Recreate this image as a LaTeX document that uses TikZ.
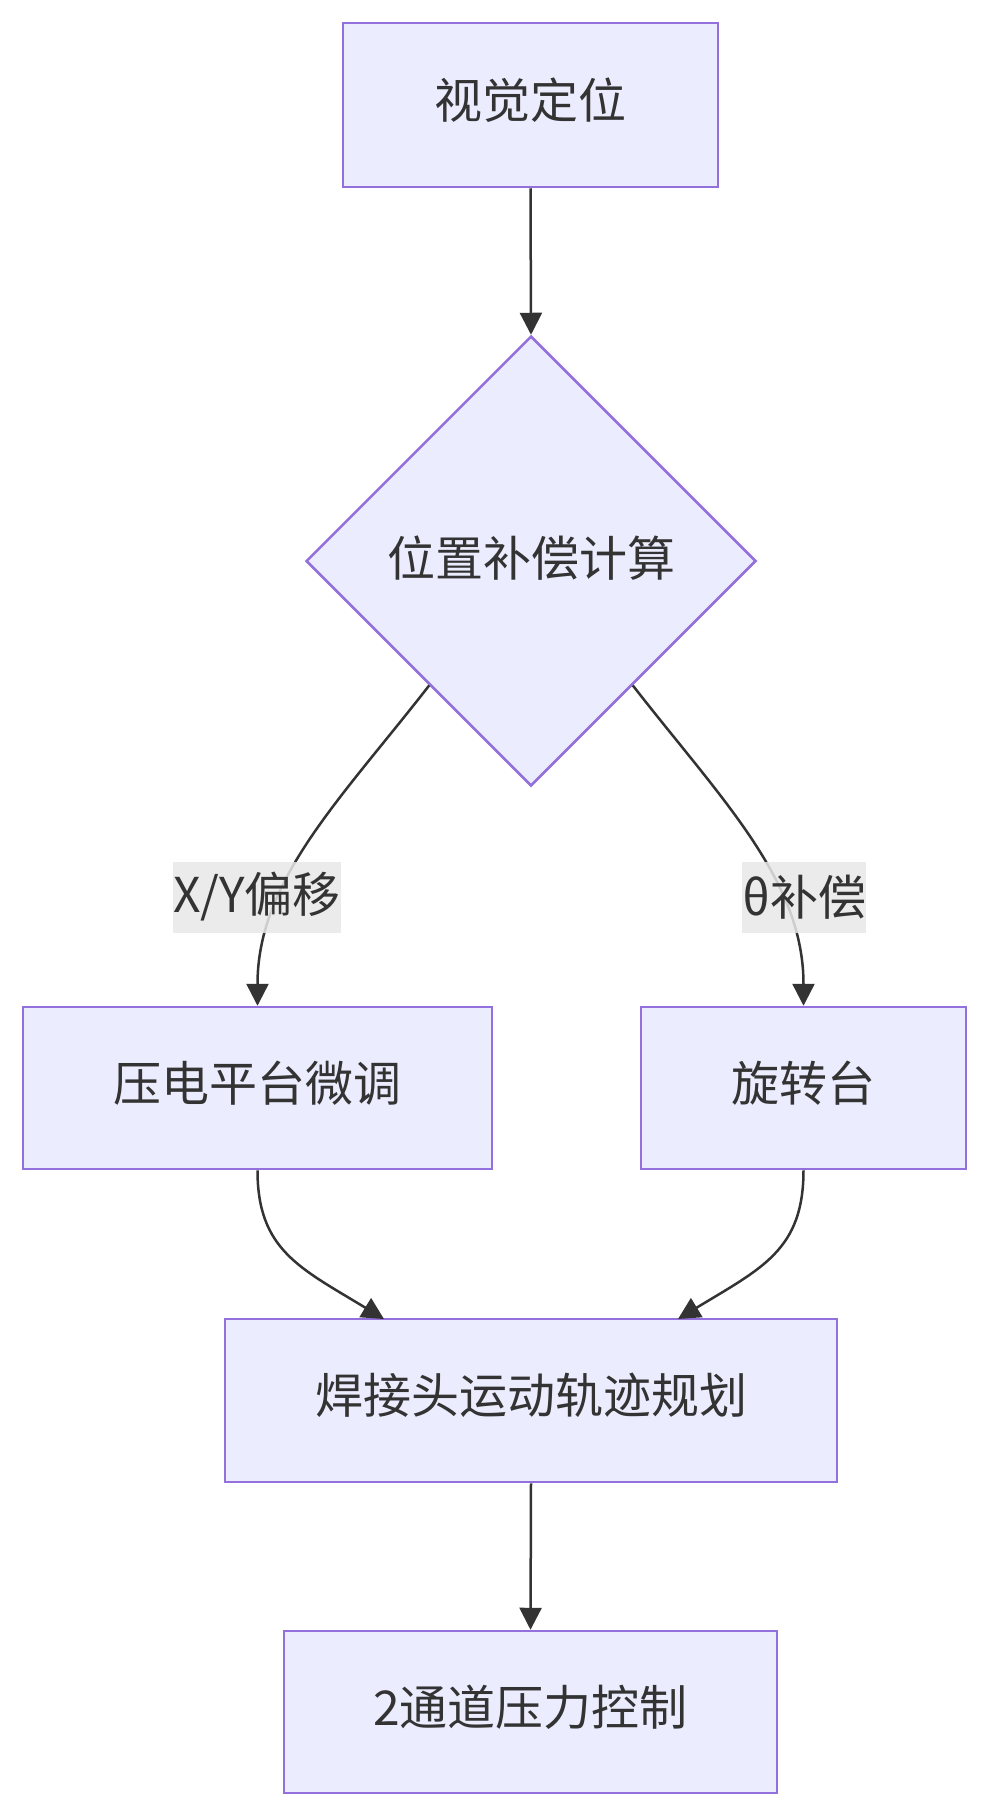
\documentclass[tikz,border=0pt]{standalone}
\usepackage{fontspec}
\setmainfont{Noto Sans CJK SC}
\usetikzlibrary{arrows.meta,shapes.geometric,calc}
\definecolor{nodefill}{HTML}{ECECFF}
\definecolor{nodeline}{HTML}{9370DB}
\definecolor{txt}{HTML}{333333}
\definecolor{edgecol}{HTML}{333333}
\definecolor{lblbg}{HTML}{E8E8E8}
\tikzset{
  x=1pt, y=-1pt,
  procbox/.style={draw=nodeline, fill=nodefill, line width=2.5pt, inner sep=0pt,
    text=txt, font=\fontsize{48}{56}\selectfont, text height=41pt, text depth=15pt},
  decis/.style={diamond, aspect=1, draw=nodeline, fill=nodefill, line width=2.5pt,
    inner sep=0pt, minimum width=450pt, minimum height=450pt, text=txt,
    font=\fontsize{48}{56}\selectfont, text height=41pt, text depth=11pt},
  flow/.style={draw=edgecol, line width=2.5pt, -{Triangle[length=22pt,width=22pt]}},
  elabel/.style={fill=lblbg, fill opacity=0.85, text opacity=1, text=txt, inner sep=0pt,
    minimum height=71pt, font=\fontsize{48}{56}\selectfont}
}
\begin{document}
\begin{tikzpicture}
\useasboundingbox (0,0) rectangle (990,1818);
\node[procbox, minimum width=375pt, minimum height=164pt] (vis) at (530.5,105) {视觉定位};
\node[decis] (calc) at (531,561) {位置补偿计算};
\node[procbox, minimum width=469pt, minimum height=162pt] (piezo) at (257.5,1088) {压电平台微调};
\node[procbox, minimum width=325pt, minimum height=162pt] (rot) at (803.5,1088) {旋转台};
\node[procbox, minimum width=612pt, minimum height=163pt] (traj) at (531,1400.5) {焊接头运动轨迹规划};
\node[procbox, minimum width=493pt, minimum height=162pt] (force) at (530.5,1712) {2通道压力控制};

\coordinate (cl) at ($(calc.west)!0.55!(calc.south)$);
\coordinate (cr) at ($(calc.east)!0.55!(calc.south)$);
\coordinate (tl) at (384,1319);
\coordinate (tr) at (678,1319);

\draw[flow] (vis.south) -- (calc.north);
\draw[flow] (cl) .. controls (340,800) and (257.5,880) .. (piezo.north);
\draw[flow] (cr) .. controls (722,800) and (803.5,880) .. (rot.north);
\draw[flow] (piezo.south) .. controls (257.5,1250) and (300,1268) .. (tl);
\draw[flow] (rot.south) .. controls (803.5,1250) and (762,1268) .. (tr);
\draw[flow] (traj.south) -- (force.north);

\node[elabel] (lxy) at (257,897) {X/Y偏移};
\node[elabel] (lth) at (804,897) {θ补偿};
\end{tikzpicture}
\end{document}
